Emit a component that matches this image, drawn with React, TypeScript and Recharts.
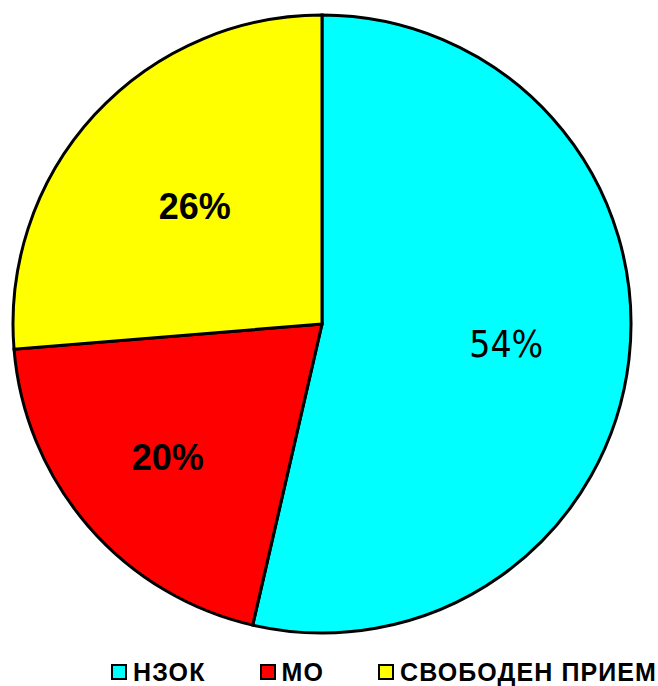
import React from "react";
import { PieChart, Pie, Cell, Legend } from "recharts";

// Share of payments by source (labels show rounded values)
const categories = ["НЗОК", "МО", "СВОБОДЕН ПРИЕМ"];
const shares = [53.6, 20.1, 26.3];
const colors = ["#00FFFF", "#FF0000", "#FFFF00"];

const data = categories.map((name, i) => ({ name, value: shares[i] }));

// label distance from centre, as a share of the radius
const labelRadius: Record<string, number> = { "НЗОК": 0.6, "МО": 0.66, "СВОБОДЕН ПРИЕМ": 0.56 };

const RADIAN = Math.PI / 180;

const renderLabel = (props: any) => {
  const { cx, cy, midAngle, outerRadius, name, value } = props;
  const r = outerRadius * (labelRadius[name] ?? 0.6);
  const x = cx + r * Math.cos(-midAngle * RADIAN);
  const y = cy + r * Math.sin(-midAngle * RADIAN);
  const first = name === categories[0];
  return (
    <text
      x={x}
      y={y}
      textAnchor="middle"
      dominantBaseline="central"
      fill="#000"
      fontFamily={first ? "'Liberation Sans Narrow', 'DejaVu Sans Condensed', sans-serif" : "'Liberation Sans', Arial, sans-serif"}
      fontWeight={first ? 400 : 700}
      fontSize={first ? 37 : 36}
    >
      {Math.round(value)}%
    </text>
  );
};

const renderLegend = () => (
  <div
    style={{
      display: "flex",
      justifyContent: "flex-end",
      alignItems: "center",
      fontFamily: "'Liberation Sans', Arial, sans-serif",
      fontWeight: 700,
      fontSize: 25,
      lineHeight: "20px",
      letterSpacing: 1.1,
      color: "#000",
      paddingRight: 1,
    }}
  >
    {categories.map((c, i) => (
      <span key={c} style={{ display: "flex", alignItems: "center", marginLeft: i === 0 ? 0 : 54 }}>
        <span
          style={{
            display: "inline-block",
            width: 12,
            height: 12,
            background: colors[i],
            border: "2.5px solid #000",
            marginRight: 6,
          }}
        />
        {c}
      </span>
    ))}
  </div>
);

export default function App() {
  return (
    <div style={{ position: "absolute", left: 0, top: 0, width: 658, height: 686, background: "#fff" }}>
      <PieChart width={658} height={686} margin={{ top: 0, right: 0, bottom: 0, left: 0 }}>
        <Pie
          data={data}
          dataKey="value"
          nameKey="name"
          cx={322}
          cy={324}
          outerRadius={309}
          startAngle={90}
          endAngle={-270}
          stroke="#000"
          strokeWidth={3}
          label={renderLabel}
          labelLine={false}
          isAnimationActive={false}
        >
          {data.map((d, i) => (
            <Cell key={d.name} fill={colors[i]} />
          ))}
        </Pie>
        <Legend
          verticalAlign="bottom"
          content={renderLegend}
          wrapperStyle={{ bottom: 4, left: 0, width: 658 }}
        />
      </PieChart>
    </div>
  );
}
